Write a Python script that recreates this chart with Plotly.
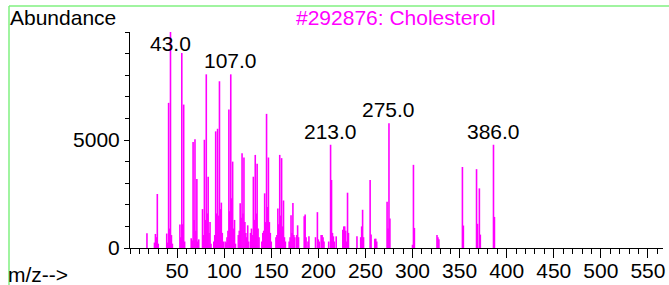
import plotly.graph_objects as go

# ---- data (m/z, abundance) ----
mz = [18, 26, 27, 28, 29, 30,
      39, 40, 41, 42, 43, 44, 45,
      53, 54, 55, 56, 57, 58,
      65, 66, 67, 68, 69, 70, 71, 72, 73,
      77, 78, 79, 80, 81, 82, 83, 84, 85, 86,
      89, 90, 91, 92, 93, 94, 95, 96, 97, 98, 99,
      101, 102, 103, 104, 105, 106, 107, 108, 109, 110, 111, 112,
      115, 116, 117, 118, 119, 120, 121, 122, 123, 124, 125, 126,
      128, 129, 130, 131, 132, 133, 134, 135, 136, 137,
      140, 141, 142, 143, 144, 145, 146, 147, 148, 149, 150,
      155, 156, 157, 158, 159, 160, 161, 162, 163, 164, 165,
      169, 170, 171, 172, 173, 174, 175, 177, 178, 179,
      185, 186, 187, 189, 190, 197, 199, 200, 201, 203, 204, 205, 206,
      211, 213, 214, 215, 216, 217, 219,
      226, 227, 228, 229, 230, 231, 232,
      241, 245, 246, 247, 248, 255, 256, 260, 261, 262,
      273, 274, 275, 276, 300, 301, 302, 326, 327, 328,
      353, 354, 368, 369, 371, 372, 386, 387]
abundance = [680, 250, 650, 500, 2500, 200,
             670, 250, 6720, 900, 9999, 600, 200,
             1090, 500, 9030, 1100, 6640, 300,
             450, 350, 4910, 1300, 5030, 800, 3200, 300, 400,
             1800, 600, 5010, 1300, 8040, 1600, 3300, 700, 1200, 200,
             300, 600, 5400, 1600, 5520, 1500, 7720, 1800, 2100, 700, 300,
             300, 250, 500, 800, 6410, 1700, 8040, 2300, 4000, 900, 1300, 200,
             600, 800, 2070, 1400, 4390, 1600, 4190, 1200, 700, 500, 1050, 300,
             700, 900, 600, 3300, 1300, 4310, 1600, 3900, 900, 500,
             300, 700, 800, 2530, 1200, 6210, 1900, 4190, 1200, 700, 300,
             500, 600, 1830, 1100, 4310, 1500, 4160, 1000, 2200, 500, 300,
             300, 500, 1520, 700, 2080, 600, 500, 600, 1050, 500,
             1470, 1550, 500, 300, 540, 500, 1660, 400, 300, 600, 600, 500, 300,
             300, 4780, 3150, 700, 540, 300, 540,
             850, 1000, 1000, 800, 300, 2560, 700,
             540, 500, 1000, 1770, 500, 3150, 620, 430, 430, 300,
             2140, 900, 5770, 1370, 150, 3850, 930, 600, 500, 400,
             3750, 1040, 3650, 1120, 2760, 620, 4780, 1440]

label_mz = [43, 107, 213, 275, 386]
label_text = ["43.0", "107.0", "213.0", "275.0", "386.0"]

x_tickvals = [50, 100, 150, 200, 250, 300, 350, 400, 450, 500, 550]
y_tickvals = [0, 5000]

title_text = "#292876: Cholesterol"
y_title = "Abundance"
x_title = "m/z-->"

# ---- layout geometry ----
W, H = 669, 285
ML, MR, MT, MB = 130, 6, 32, 37
PW, PH = W - ML - MR, H - MT - MB
FONT = "Liberation Sans, Arial, sans-serif"
FS = 21
MAG = "#ff00ff"
LABEL_CEIL = 8850


def px(xp):
    return (xp - ML) / PW


def py(yp):
    return (H - MB - yp) / PH


xs, ys = [], []
for m, a in zip(mz, abundance):
    xs += [m, m, None]
    ys += [0, a, None]

fig = go.Figure()
fig.add_trace(go.Scatter(x=xs, y=ys, mode="lines",
                         line=dict(color=MAG, width=1.6),
                         hoverinfo="skip", showlegend=False))

ab_of = dict(zip(mz, abundance))
annotations = []
for m, t in zip(label_mz, label_text):
    annotations.append(dict(x=m, y=min(ab_of[m], LABEL_CEIL), xref="x", yref="y",
                            text=t, showarrow=False, xanchor="center",
                            yanchor="bottom", yshift=0,
                            font=dict(family=FONT, size=FS, color="black")))

annotations.append(dict(x=px(8), y=py(17), xref="paper", yref="paper",
                        text=y_title, showarrow=False, xanchor="left",
                        yanchor="middle", font=dict(family=FONT, size=FS, color="black")))
annotations.append(dict(x=px(396), y=py(18), xref="paper", yref="paper",
                        text=title_text, showarrow=False, xanchor="center",
                        yanchor="middle", font=dict(family=FONT, size=FS, color=MAG)))
annotations.append(dict(x=px(6), y=py(274), xref="paper", yref="paper",
                        text=x_title, showarrow=False, xanchor="left",
                        yanchor="middle", font=dict(family=FONT, size=FS, color="black")))

GREEN = "#80f080"
shapes = [
    dict(type="line", xref="paper", yref="paper", x0=px(9), x1=px(9),
         y0=py(6), y1=py(H), line=dict(color=GREEN, width=1.5)),
    dict(type="line", xref="paper", yref="paper", x0=px(9), x1=px(W),
         y0=py(6), y1=py(6), line=dict(color=GREEN, width=1.5)),
]

fig.update_layout(
    width=W, height=H,
    margin=dict(l=ML, r=MR, t=MT, b=MB, autoexpand=False),
    paper_bgcolor="white", plot_bgcolor="white",
    font=dict(family=FONT, size=FS, color="black"),
    annotations=annotations, shapes=shapes,
    xaxis=dict(range=[0, 566], tickvals=x_tickvals, ticks="outside", ticklen=9,
               tickcolor="black", showline=True, linecolor="black", linewidth=1,
               showgrid=False, zeroline=False, automargin=False,
               ticklabelstandoff=-5,
               minor=dict(dtick=10, tick0=0, ticks="outside", ticklen=5,
                          tickcolor="black", showgrid=False),
               tickfont=dict(family=FONT, size=FS, color="black")),
    yaxis=dict(range=[0, 10000], tickvals=y_tickvals, ticks="outside", ticklen=5,
               tickcolor="black", showline=True, linecolor="black", linewidth=1,
               showgrid=False, zeroline=False, automargin=False,
               minor=dict(dtick=1000, tick0=0, ticks="outside", ticklen=4,
                          tickcolor="black", showgrid=False),
               tickfont=dict(family=FONT, size=FS, color="black")),
)

fig.write_html("out.html", config={"displayModeBar": False},
               post_script="document.body.style.margin='0';document.body.style.overflow='hidden';")
